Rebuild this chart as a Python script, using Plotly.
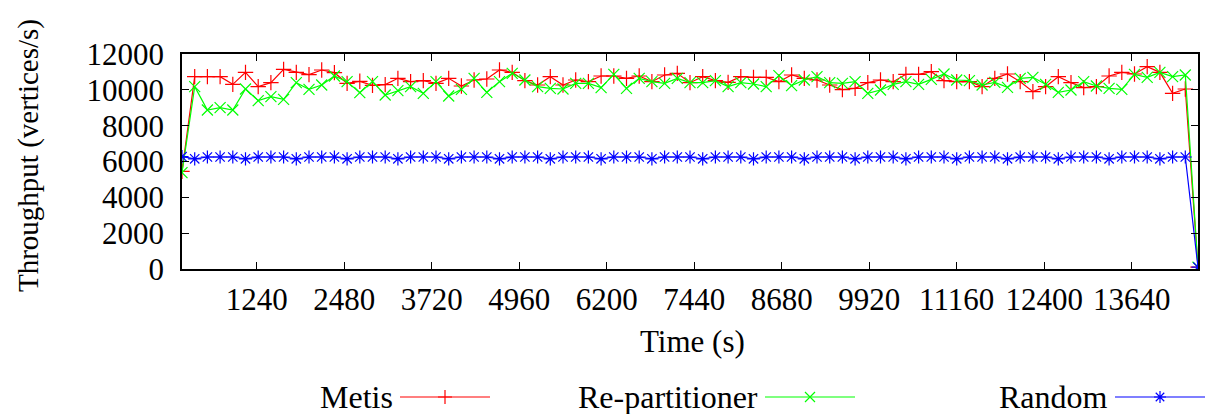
import plotly.graph_objects as go

# ---- data ----
time_s = [180 * k for k in range(1, 82)]  # sample instants, 180 s apart

metis = [5450, 10735, 10735, 10735, 10307, 10977, 10177, 10400, 11144, 10977,
         10847, 11107, 10958, 10363, 10475, 10251, 10289, 10642, 10456, 10512,
         10363, 10642, 10214, 10549, 10605, 11107, 10977, 10512, 10270, 10735,
         10270, 10549, 10456, 10772, 10772, 10642, 10772, 10456, 10828, 10921,
         10400, 10735, 10512, 10419, 10735, 10698, 10698, 10456, 10828, 10642,
         10549, 10270, 10010, 10084, 10400, 10549, 10456, 10865, 10865, 11014,
         10512, 10456, 10456, 10177, 10642, 10884, 10456, 9898, 10177, 10735,
         10400, 10121, 10177, 10772, 10977, 10884, 11293, 10977, 9805, 10047,
         100]

repartitioner = [5378, 10177, 8875, 9005, 8875, 10047, 9396, 9619, 9470, 10400,
                 10028, 10270, 10772, 10456, 9842, 10456, 9712, 9954, 10177, 9805,
                 10456, 9656, 10028, 10642, 9861, 10456, 10921, 10549, 10177, 10084,
                 10047, 10363, 10363, 10121, 10865, 10084, 10642, 10456, 10363, 10642,
                 10400, 10400, 10512, 10177, 10400, 10326, 10177, 10791, 10233, 10549,
                 10735, 10400, 10363, 10456, 9805, 9991, 10307, 10456, 10307, 10586,
                 10884, 10549, 10512, 10270, 10419, 10140, 10642, 10698, 10307, 9861,
                 9991, 10456, 10214, 10084, 10028, 10865, 10698, 10977, 10735, 10828,
                 100]

random_p = [6270, 6150, 6250, 6250, 6250, 6150, 6250, 6250, 6250, 6150,
            6250, 6250, 6250, 6150, 6250, 6250, 6250, 6150, 6250, 6250,
            6250, 6150, 6250, 6250, 6250, 6150, 6250, 6250, 6250, 6150,
            6250, 6250, 6250, 6150, 6250, 6250, 6250, 6150, 6250, 6250,
            6250, 6150, 6250, 6250, 6250, 6150, 6250, 6250, 6250, 6150,
            6250, 6250, 6250, 6150, 6250, 6250, 6250, 6150, 6250, 6250,
            6250, 6150, 6250, 6250, 6250, 6150, 6250, 6250, 6250, 6150,
            6250, 6250, 6250, 6150, 6250, 6250, 6250, 6150, 6250, 6250,
            100]

x_ticks = [1240, 2480, 3720, 4960, 6200, 7440, 8680, 9920, 11160, 12400, 13640]
y_ticks = [0, 2000, 4000, 6000, 8000, 10000, 12000]

series_names = ["Metis", "Re-partitioner", "Random"]
series_colors = ["#ff0000", "#00ff00", "#0000ff"]
series_symbols = ["cross-thin-open", "x-thin-open", "asterisk-open"]

# ---- layout constants ----
W, H = 1216, 414
PL, PR, PT, PB = 182, 1198, 54, 269  # plot area in pixels
FONT = "Liberation Serif, Times New Roman, serif"
FS = 31

fig = go.Figure()

for name, vals, col, sym in zip(series_names, [metis, repartitioner, random_p],
                                series_colors, series_symbols):
    fig.add_trace(go.Scatter(
        x=time_s, y=vals, name=name, mode="lines+markers",
        line=dict(color=col, width=1.2),
        marker=dict(symbol=sym, size=11, color=col, line=dict(color=col, width=1.2)),
        xaxis="x", yaxis="y", showlegend=False,
    ))

# legend samples drawn on a pixel-coordinate overlay axis (gnuplot style: text then sample)
legend_text_right = [395, 760, 1110]
legend_line = [(400, 490), (765, 855), (1115, 1205)]
LEG_Y = 397
for name, col, sym, (x0, x1), xt in zip(series_names, series_colors, series_symbols,
                                         legend_line, legend_text_right):
    fig.add_trace(go.Scatter(
        x=[x0, x1], y=[LEG_Y, LEG_Y], mode="lines", line=dict(color=col, width=1.2),
        xaxis="x2", yaxis="y2", showlegend=False, hoverinfo="skip"))
    fig.add_trace(go.Scatter(
        x=[(x0 + x1) / 2], y=[LEG_Y], mode="markers",
        marker=dict(symbol=sym, size=10, color=col, line=dict(color=col, width=1.2)),
        xaxis="x2", yaxis="y2", showlegend=False, hoverinfo="skip"))
    fig.add_annotation(x=xt, y=LEG_Y, xref="x2", yref="y2", text=name,
                       showarrow=False, xanchor="right", yanchor="middle",
                       font=dict(family=FONT, size=FS + 1, color="black"))

# axis titles
fig.add_annotation(x=(PL + PR) / 2 + 2, y=341, xref="x2", yref="y2", text="Time (s)",
                   showarrow=False, xanchor="center", yanchor="middle",
                   font=dict(family=FONT, size=FS, color="black"))
fig.add_annotation(x=28, y=156, xref="x2", yref="y2",
                   text="Throughput (vertices/s)", textangle=-90,
                   showarrow=False, xanchor="center", yanchor="middle",
                   font=dict(family=FONT, size=29, color="black"))

axis_common = dict(showgrid=False, zeroline=False, showline=True, linecolor="black",
                   linewidth=1.5, ticks="inside", ticklen=7, tickwidth=1.2,
                   tickcolor="black", mirror="allticks",
                   tickfont=dict(family=FONT, size=FS, color="black"))

fig.update_layout(
    width=W, height=H,
    margin=dict(l=0, r=0, t=0, b=0, autoexpand=False),
    paper_bgcolor="white", plot_bgcolor="rgba(0,0,0,0)",
    showlegend=False,
    xaxis=dict(domain=[PL / W, PR / W], range=[180, 14580], tickvals=x_ticks,
               ticktext=[str(v) for v in x_ticks], anchor="y",
               ticklabelstandoff=2, **axis_common),
    yaxis=dict(domain=[(H - PB) / H, (H - PT) / H], range=[0, 12000], tickvals=y_ticks,
               ticktext=[str(v) for v in y_ticks], anchor="x",
               ticklabelstandoff=10, **axis_common),
    xaxis2=dict(domain=[0, 1], range=[0, W], visible=False, anchor="y2", fixedrange=True),
    yaxis2=dict(domain=[0, 1], range=[H, 0], visible=False, anchor="x2", fixedrange=True),
)

fig.write_html("out.html", config={"displayModeBar": False},
               post_script="document.body.style.margin='0px';document.body.style.overflow='hidden';")
